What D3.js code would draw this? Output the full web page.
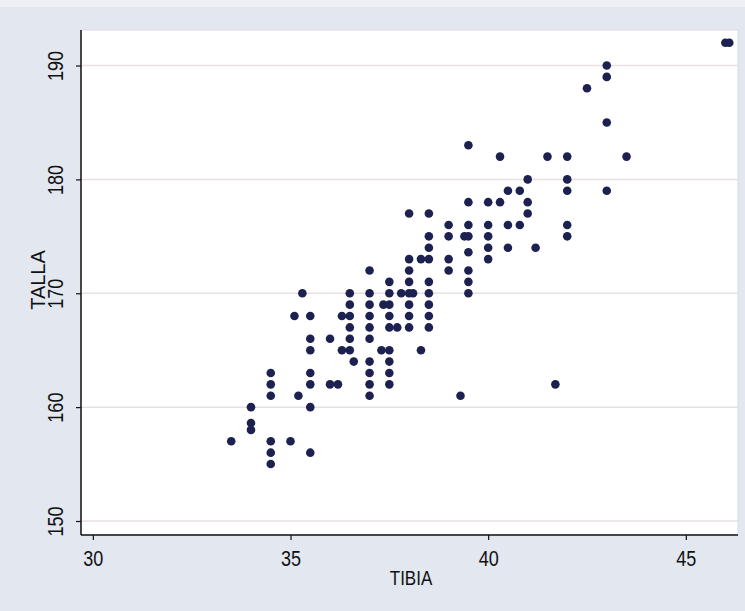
<!DOCTYPE html>
<html>
<head>
<meta charset="utf-8">
<script src="https://cdn.jsdelivr.net/npm/d3@7"></script>
<style>
  html, body { margin: 0; padding: 0; background: #e2e7f0; }
  svg { display: block; }
  text { font-family: "Liberation Sans", Arial, sans-serif; fill: #111; }
</style>
</head>
<body>
<svg id="chart" width="745" height="611"></svg>
<script>
// Data: TIBIA (x) vs TALLA (y)
const tibia = [
  33.5,
  34, 34, 34,
  34.5, 34.5, 34.5, 34.5, 34.5, 34.5,
  35, 35.1, 35.2, 35.3,
  35.5, 35.5, 35.5, 35.5, 35.5, 35.5, 35.5,
  36, 36, 36.2, 36.3, 36.3,
  36.5, 36.5, 36.5, 36.5, 36.5, 36.5, 36.6,
  37, 37, 37, 37, 37, 37, 37, 37, 37, 37,
  37.3, 37.35,
  37.5, 37.5, 37.5, 37.5, 37.5, 37.5, 37.5, 37.5, 37.5,
  37.7, 37.8,
  38, 38, 38, 38, 38, 38, 38, 38, 38.1,
  38.3, 38.3,
  38.5, 38.5, 38.5, 38.5, 38.5, 38.5, 38.5, 38.5, 38.5,
  39, 39, 39, 39, 39.3, 39.4,
  39.5, 39.5, 39.5, 39.5, 39.5, 39.5, 39.5, 39.5,
  40, 40, 40, 40, 40,
  40.3, 40.3, 40.5, 40.5, 40.5, 40.8, 40.8,
  41, 41, 41, 41.2, 41.5, 41.7,
  42, 42, 42, 42, 42,
  42.5, 43, 43, 43, 43, 43.5, 46, 46.1
];
const talla = [
  157,
  160, 158.6, 158,
  163, 162, 161, 157, 156, 155,
  157, 168, 161, 170,
  168, 166, 165, 163, 162, 160, 156,
  166, 162, 162, 168, 165,
  170, 169, 168, 167, 166, 165, 164,
  172, 170, 169, 168, 167, 166, 164, 163, 162, 161,
  165, 169,
  171, 170, 169, 168, 167, 165, 164, 163, 162,
  167, 170,
  177, 173, 172, 171, 170, 169, 168, 167, 170,
  173, 165,
  177, 175, 174, 173, 171, 170, 169, 168, 167,
  176, 175, 173, 172, 161, 175,
  183, 178, 176, 175, 173.6, 172, 171, 170,
  178, 176, 175, 174, 173,
  182, 178, 179, 176, 174, 179, 176,
  180, 178, 177, 174, 182, 162,
  182, 180, 179, 176, 175,
  188, 190, 189, 185, 179, 182, 192, 192
];
const xTicks = [30, 35, 40, 45];
const yTicks = [150, 160, 170, 180, 190];
const xLabel = "TIBIA";
const yLabel = "TALLA";

const points = tibia.map((t, i) => ({ x: t, y: talla[i] }));

const svg = d3.select("#chart");
const L = 81, R = 738, T = 30, B = 535;

// outer background
svg.append("rect").attr("x", 0).attr("y", 0).attr("width", 745).attr("height", 611).attr("fill", "#e2e7f0");
svg.append("rect").attr("x", 0).attr("y", 0).attr("width", 745).attr("height", 7).attr("fill", "#eef0f5");

const x = d3.scaleLinear().domain([29.70, 46.32]).range([L, R]);
const y = d3.scaleLinear().domain([148.77, 193.12]).range([B, T]);

// plot area
svg.append("rect").attr("x", L).attr("y", T).attr("width", R - L).attr("height", B - T)
  .attr("fill", "#ffffff").attr("stroke", "#d8dce6").attr("stroke-width", 1);

// grid lines
svg.append("g").selectAll("line").data(yTicks).join("line")
  .attr("x1", L).attr("x2", R)
  .attr("y1", d => y(d)).attr("y2", d => y(d))
  .attr("stroke", "#e9dfe0").attr("stroke-width", 1.5);

// points
svg.append("g").selectAll("circle").data(points).join("circle")
  .attr("cx", d => x(d.x)).attr("cy", d => y(d.y))
  .attr("r", 4.3).attr("fill", "#1d2150");

// axes
const xAxis = d3.axisBottom(x).tickValues(xTicks).tickSize(5).tickPadding(10).tickFormat(d3.format("d"));
const gx = svg.append("g").attr("transform", `translate(0,${B})`).call(xAxis);
gx.select(".domain").attr("stroke", "#111").attr("stroke-width", 1.5).attr("d", `M${L},0H${R}`);
gx.selectAll(".tick line").attr("stroke", "#111").attr("stroke-width", 1.2);
gx.selectAll(".tick text").attr("font-size", 22).attr("fill", "#111")
  .attr("transform", "scale(0.82,1)")
  .style("font-family", "'Liberation Sans',Arial,sans-serif");

const yAxis = d3.axisLeft(y).tickValues(yTicks).tickSize(5).tickPadding(4).tickFormat(d3.format("d"));
const gy = svg.append("g").attr("transform", `translate(${L},0)`).call(yAxis);
gy.select(".domain").attr("stroke", "#111").attr("stroke-width", 1.5).attr("d", `M0,${T}V${B}`);
gy.selectAll(".tick line").attr("stroke", "#111").attr("stroke-width", 1.2);
gy.selectAll(".tick text")
  .attr("font-size", 22).attr("fill", "#111")
  .attr("text-anchor", "middle").attr("dy", null)
  .attr("x", null)
  .attr("transform", "translate(-26,0) rotate(-90) scale(0.82,1)")
  .attr("dominant-baseline", "central")
  .style("font-family", "'Liberation Sans',Arial,sans-serif");

// axis titles
svg.append("text").attr("transform", "translate(411,585) scale(0.85,1)")
  .attr("text-anchor", "middle").attr("font-size", 20).text(xLabel);
svg.append("text").attr("transform", `translate(45,280) rotate(-90)`)
  .attr("text-anchor", "middle").attr("font-size", 20).text(yLabel);
</script>
</body>
</html>
